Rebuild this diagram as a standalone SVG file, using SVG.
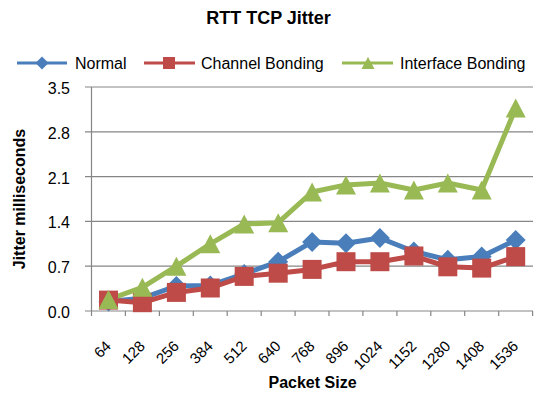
<svg xmlns="http://www.w3.org/2000/svg" xmlns:xlink="http://www.w3.org/1999/xlink" width="537" height="394" viewBox="0 0 537 394">
<style>
.t{font-family:"Liberation Sans",Arial,sans-serif;fill:#000}
.b{font-weight:bold}
.grid{stroke:#868686;stroke-width:1.2;fill:none}
.axis{stroke:#868686;stroke-width:1.2;fill:none}
.ln{fill:none;stroke-width:5;stroke-linejoin:round;stroke-linecap:round}
.blue{stroke:#4A7EBB}
.red{stroke:#BE4B48}
.green{stroke:#98B954}
</style>
<defs>
<path id="dia" d="M0,-10 L10,0 L0,10 L-10,0Z" fill="#4A7EBB"/>
<rect id="sq" x="-9.5" y="-9.5" width="19" height="19" fill="#BE4B48"/>
<path id="tri" d="M0,-9.5 L10,9.5 L-10,9.5Z" fill="#98B954"/>
<path id="diaS" d="M0,-6.5 L6.5,0 L0,6.5 L-6.5,0Z" fill="#4A7EBB"/>
<rect id="sqS" x="-6" y="-6" width="12" height="12" fill="#BE4B48"/>
<path id="triS" d="M0,-6 L6.5,6 L-6.5,6Z" fill="#98B954"/>
</defs>
<rect width="537" height="394" fill="#fff"/>

<text class="t b" x="268.5" y="24" font-size="18" text-anchor="middle">RTT TCP Jitter</text>

<g id="legend">
<line class="blue" x1="17" y1="63" x2="67" y2="63" stroke-width="3"/>
<use xlink:href="#diaS" x="42" y="63"/>
<text class="t" x="75" y="68.5" font-size="16">Normal</text>
<line class="red" x1="144" y1="63" x2="195" y2="63" stroke-width="3"/>
<use xlink:href="#sqS" x="169" y="63"/>
<text class="t" x="201" y="68.5" font-size="16">Channel Bonding</text>
<line class="green" x1="342" y1="63" x2="393" y2="63" stroke-width="3"/>
<use xlink:href="#triS" x="368" y="63"/>
<text class="t" x="400" y="68.5" font-size="16">Interface Bonding</text>
</g>

<g id="grid">
<line class="grid" x1="85" y1="87" x2="533" y2="87"/>
<line class="grid" x1="85" y1="131.8" x2="533" y2="131.8"/>
<line class="grid" x1="85" y1="176.6" x2="533" y2="176.6"/>
<line class="grid" x1="85" y1="221.4" x2="533" y2="221.4"/>
<line class="grid" x1="85" y1="266.2" x2="533" y2="266.2"/>
</g>

<g id="axes">
<line class="axis" x1="91.5" y1="87" x2="91.5" y2="311"/>
<line class="axis" x1="85" y1="311" x2="533" y2="311"/>
<path class="axis" d="M91.5,311V316 M125.4,311V316 M159.4,311V316 M193.3,311V316 M227.2,311V316 M261.2,311V316 M295.1,311V316 M329,311V316 M362.9,311V316 M396.9,311V316 M430.8,311V316 M464.7,311V316 M498.7,311V316 M532.6,311V316"/>
</g>

<g id="ylabels" class="t" font-size="16" text-anchor="end">
<text x="70" y="94">3.5</text>
<text x="70" y="138.8">2.8</text>
<text x="70" y="183.6">2.1</text>
<text x="70" y="228.4">1.4</text>
<text x="70" y="273.2">0.7</text>
<text x="70" y="318">0.0</text>
</g>

<g id="xlabels" class="t" font-size="15" text-anchor="end">
<text transform="translate(112,347) rotate(-45)">64</text>
<text transform="translate(145.9,347) rotate(-45)">128</text>
<text transform="translate(179.9,347) rotate(-45)">256</text>
<text transform="translate(213.8,347) rotate(-45)">384</text>
<text transform="translate(247.7,347) rotate(-45)">512</text>
<text transform="translate(281.7,347) rotate(-45)">640</text>
<text transform="translate(315.6,347) rotate(-45)">768</text>
<text transform="translate(349.5,347) rotate(-45)">896</text>
<text transform="translate(383.4,347) rotate(-45)">1024</text>
<text transform="translate(417.4,347) rotate(-45)">1152</text>
<text transform="translate(451.3,347) rotate(-45)">1280</text>
<text transform="translate(485.2,347) rotate(-45)">1408</text>
<text transform="translate(519.2,347) rotate(-45)">1536</text>
</g>

<text class="t b" font-size="16" text-anchor="middle" transform="translate(25,199) rotate(-90)">Jitter milliseconds</text>
<text class="t b" x="312.5" y="388" font-size="16" text-anchor="middle">Packet Size</text>

<g id="connectors">
<polyline class="ln blue" points="108.5,301.4 142.4,298.2 176.4,286 210.3,285.4 244.2,273.9 278.2,261.7 312.1,241.9 346,243.2 379.9,238 413.9,251.5 447.8,259.8 481.7,256.6 515.7,240"/>
<polyline class="ln red" points="108.5,300.1 142.4,302.7 176.4,292.4 210.3,288 244.2,276.4 278.2,273.2 312.1,269.4 346,261.7 379.9,261.7 413.9,256 447.8,266.8 481.7,268.1 515.7,256.6"/>
<polyline class="ln green" points="108.5,299.5 142.4,287.3 176.4,266.2 210.3,243.8 244.2,224 278.2,222.7 312.1,192 346,184.9 379.9,183 413.9,190 447.8,183 481.7,190 515.7,108.1"/>
</g>

<g id="normal">
<use xlink:href="#dia" x="108.5" y="301.4"/><use xlink:href="#dia" x="142.4" y="298.2"/><use xlink:href="#dia" x="176.4" y="286"/><use xlink:href="#dia" x="210.3" y="285.4"/><use xlink:href="#dia" x="244.2" y="273.9"/><use xlink:href="#dia" x="278.2" y="261.7"/><use xlink:href="#dia" x="312.1" y="241.9"/><use xlink:href="#dia" x="346" y="243.2"/><use xlink:href="#dia" x="379.9" y="238"/><use xlink:href="#dia" x="413.9" y="251.5"/><use xlink:href="#dia" x="447.8" y="259.8"/><use xlink:href="#dia" x="481.7" y="256.6"/><use xlink:href="#dia" x="515.7" y="240"/>
</g>
<g id="channel">
<use xlink:href="#sq" x="108.5" y="300.1"/><use xlink:href="#sq" x="142.4" y="302.7"/><use xlink:href="#sq" x="176.4" y="292.4"/><use xlink:href="#sq" x="210.3" y="288"/><use xlink:href="#sq" x="244.2" y="276.4"/><use xlink:href="#sq" x="278.2" y="273.2"/><use xlink:href="#sq" x="312.1" y="269.4"/><use xlink:href="#sq" x="346" y="261.7"/><use xlink:href="#sq" x="379.9" y="261.7"/><use xlink:href="#sq" x="413.9" y="256"/><use xlink:href="#sq" x="447.8" y="266.8"/><use xlink:href="#sq" x="481.7" y="268.1"/><use xlink:href="#sq" x="515.7" y="256.6"/>
</g>
<g id="interface">
<use xlink:href="#tri" x="108.5" y="299.5"/><use xlink:href="#tri" x="142.4" y="287.3"/><use xlink:href="#tri" x="176.4" y="266.2"/><use xlink:href="#tri" x="210.3" y="243.8"/><use xlink:href="#tri" x="244.2" y="224"/><use xlink:href="#tri" x="278.2" y="222.7"/><use xlink:href="#tri" x="312.1" y="192"/><use xlink:href="#tri" x="346" y="184.9"/><use xlink:href="#tri" x="379.9" y="183"/><use xlink:href="#tri" x="413.9" y="190"/><use xlink:href="#tri" x="447.8" y="183"/><use xlink:href="#tri" x="481.7" y="190"/><use xlink:href="#tri" x="515.7" y="108.1"/>
</g>
</svg>
